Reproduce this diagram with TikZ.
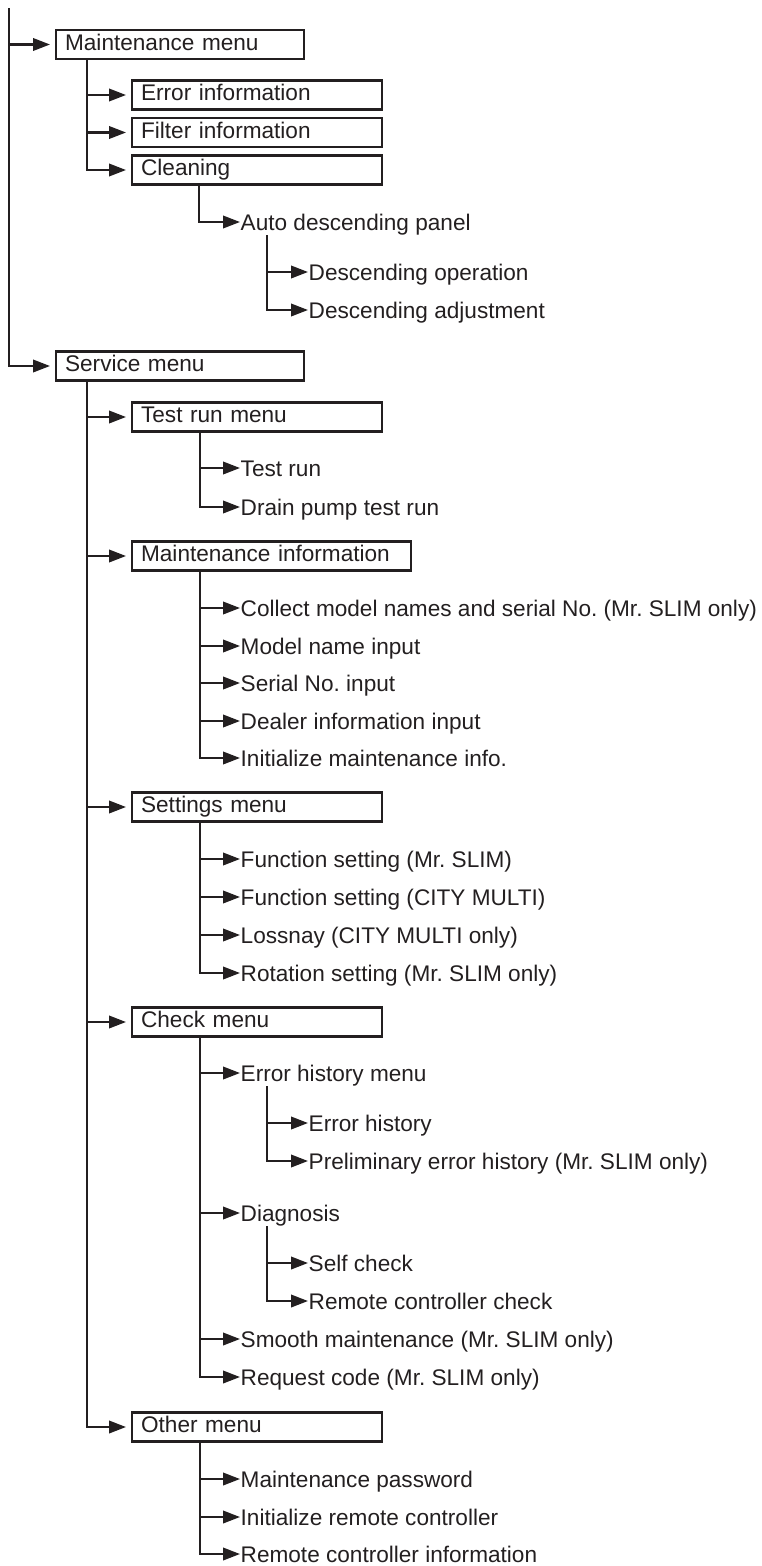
\documentclass[tikz,border=0pt]{standalone}
\usepackage{fontspec}
\setmainfont{Liberation Sans}
\usetikzlibrary{arrows.meta,calc}
\definecolor{ink}{HTML}{231F20}
\frenchspacing
\begin{document}
\begin{tikzpicture}[x=1pt,y=-1pt,
  every node/.style={font=\fontsize{22.6}{27}\selectfont, text=ink},
  menubox/.style={draw=ink, line width=2.2pt, anchor=west, minimum height=29pt,
    inner ysep=0pt, inner xsep=9pt, text height=16.2pt, text depth=4.8pt, align=left},
  wide1/.style={text width=230pt},
  wide2/.style={text width=232pt},
  item/.style={anchor=west, inner xsep=0.5pt, inner ysep=0pt, text height=16.2pt, text depth=0pt},
  conn/.style={draw=ink, line width=2.2pt, -{Triangle[length=17pt,width=12.5pt]}},
  boxconn/.style={conn, shorten >=5pt},
]
\useasboundingbox (0,0) rectangle (761,1566);
\coordinate (top) at (9,8);

% level 1
\node[menubox, wide1] (mm) at (55,44.5) {Maintenance menu};
\node[menubox, wide1] (sm) at (55,366) {Service menu};

% maintenance menu
\node[menubox, wide2] (ei) at (131,95) {Error information};
\node[menubox, wide2] (fi) at (131,132.5) {Filter information};
\node[menubox, wide2] (cl) at (131,170) {Cleaning};
\node[item] (adp) at (240,222) {Auto descending panel};
\node[item] (dop) at (308,272) {Descending operation};
\node[item] (dad) at (308,310) {Descending adjustment};

% service menu
\node[menubox, wide2] (trm) at (131,417) {Test run menu};
\node[item] (tr) at (240,468) {Test run};
\node[item] (dp) at (240,507) {Drain pump test run};

\node[menubox, text width=261pt] (mi) at (131,556) {Maintenance information};
\node[item] (cm) at (240,608) {Collect model names and serial No. (Mr. SLIM only)};
\node[item] (mn) at (240,646) {Model name input};
\node[item] (sn) at (240,683) {Serial No. input};
\node[item] (di) at (240,721) {Dealer information input};
\node[item] (im) at (240,758) {Initialize maintenance info.};

\node[menubox, wide2] (st) at (131,807) {Settings menu};
\node[item] (fs1) at (240,859) {Function setting (Mr. SLIM)};
\node[item] (fs2) at (240,897) {Function setting (CITY MULTI)};
\node[item] (ls) at (240,935) {Lossnay (CITY MULTI only)};
\node[item] (rs) at (240,973) {Rotation setting (Mr. SLIM only)};

\node[menubox, wide2] (ck) at (131,1022) {Check menu};
\node[item] (ehm) at (240,1073) {Error history menu};
\node[item] (eh) at (308,1123) {Error history};
\node[item] (peh) at (308,1161) {Preliminary error history (Mr. SLIM only)};
\node[item] (dg) at (240,1213) {Diagnosis};
\node[item] (sc) at (308,1263) {Self check};
\node[item] (rcc) at (308,1301) {Remote controller check};
\node[item] (smt) at (240,1339) {Smooth maintenance (Mr. SLIM only)};
\node[item] (rq) at (240,1377) {Request code (Mr. SLIM only)};

\node[menubox, wide2] (om) at (131,1427) {Other menu};
\node[item] (mp) at (240,1479) {Maintenance password};
\node[item] (irc) at (240,1517) {Initialize remote controller};
\node[item] (rci) at (240,1554) {Remote controller information};

% connectors: root
\draw[boxconn] (top) |- (mm.west);
\draw[boxconn] (top) |- (sm.west);
% maintenance menu
\foreach \c in {ei,fi,cl} \draw[boxconn] ($(mm.south west)+(32,0)$) |- (\c.west);
\draw[conn] ($(cl.south west)+(68,0)$) |- (adp.west);
\foreach \c in {dop,dad} \draw[conn] ($(adp.west)+(27,13)$) |- (\c.west);
% service menu
\foreach \c in {trm,mi,st,ck,om} \draw[boxconn] ($(sm.south west)+(32,0)$) |- (\c.west);
\foreach \c in {tr,dp} \draw[conn] ($(trm.south west)+(69,0)$) |- (\c.west);
\foreach \c in {cm,mn,sn,di,im} \draw[conn] ($(mi.south west)+(69,0)$) |- (\c.west);
\foreach \c in {fs1,fs2,ls,rs} \draw[conn] ($(st.south west)+(69,0)$) |- (\c.west);
\foreach \c in {ehm,dg,smt,rq} \draw[conn] ($(ck.south west)+(69,0)$) |- (\c.west);
\foreach \c in {eh,peh} \draw[conn] ($(ehm.west)+(27,13)$) |- (\c.west);
\foreach \c in {sc,rcc} \draw[conn] ($(dg.west)+(27,13)$) |- (\c.west);
\foreach \c in {mp,irc,rci} \draw[conn] ($(om.south west)+(69,0)$) |- (\c.west);
\end{tikzpicture}
\end{document}
